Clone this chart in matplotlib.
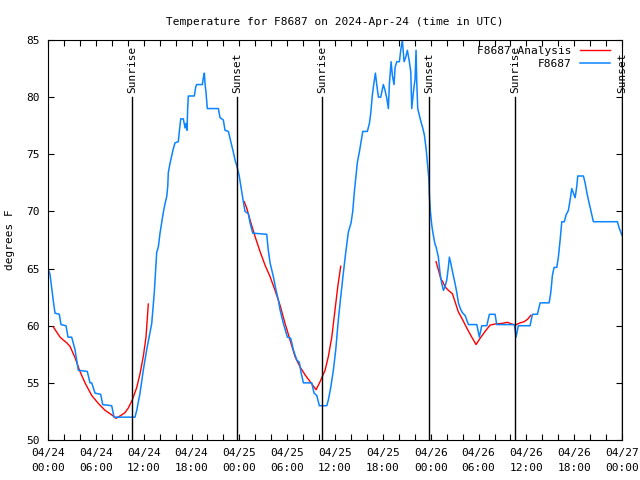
import numpy as np
import pandas as pd
import matplotlib
matplotlib.use("Agg")
import matplotlib.pyplot as plt
import matplotlib.dates as mdates

plt.rcParams['font.family'] = ['DejaVu Sans Mono']
plt.rcParams['font.size'] = 8

start = pd.Timestamp("2024-04-24 00:00")

# station obs (hours after start, deg F)
obs_hours = [0.00, 0.25, 0.66, 0.88, 1.42, 1.63, 2.26, 2.51, 2.97, 3.39, 3.80, 4.93,
             5.27, 5.48, 5.90, 6.61, 6.86, 7.99, 8.28, 10.91, 11.13, 11.54, 11.95, 12.38,
             13.01, 13.33, 13.51, 13.63, 13.84, 14.05, 14.26, 14.46, 14.68, 14.89, 15.02, 15.09,
             15.30, 15.52, 15.72, 15.93, 16.34, 16.47, 16.65, 16.97, 17.19, 17.31, 17.44, 17.52,
             17.60, 18.35, 18.53, 18.65, 19.36, 19.48, 19.61, 19.69, 19.82, 19.98, 21.36, 21.58,
             21.99, 22.20, 22.62, 22.83, 23.04, 23.24, 23.46, 23.71, 23.96, 24.21, 24.37, 24.50,
             24.71, 25.13, 25.34, 25.68, 27.43, 27.63, 27.85, 28.26, 28.60, 28.89, 29.10, 29.52,
             30.02, 30.44, 30.77, 31.20, 31.52, 31.74, 32.03, 33.08, 33.37, 33.71, 34.03, 34.96,
             35.16, 35.46, 35.79, 36.09, 36.41, 36.71, 37.04, 37.34, 37.67, 38.01, 38.22, 38.42,
             38.64, 38.80, 39.05, 39.26, 39.48, 40.05, 40.31, 40.48, 40.68, 40.89, 41.06, 41.23,
             41.44, 41.73, 42.06, 42.27, 42.49, 42.69, 42.81, 43.03, 43.19, 43.40, 43.53, 43.74,
             44.07, 44.24, 44.44, 44.66, 44.87, 45.07, 45.32, 45.50, 45.62, 45.82, 46.04, 46.16,
             46.25, 46.37, 46.58, 46.79, 47.00, 47.20, 47.42, 47.58, 47.76, 47.83, 47.96, 48.13,
             48.33, 48.55, 48.67, 48.96, 49.17, 49.38, 49.59, 49.80, 50.01, 50.21, 50.34, 50.51,
             50.77, 51.05, 51.27, 51.47, 51.77, 52.02, 52.31, 52.73, 53.78, 54.10, 54.40, 55.03,
             55.36, 56.07, 56.28, 58.49, 58.70, 58.99, 60.46, 60.75, 61.38, 61.72, 62.85, 63.06,
             63.26, 63.47, 63.81, 64.01, 64.23, 64.44, 64.76, 64.98, 65.27, 65.48, 65.69, 65.89,
             66.11, 66.32, 66.44, 67.15, 67.36, 67.57, 67.78, 68.08, 68.40, 71.41, 71.66, 72.00]
obs_temp = [65.0, 64.5, 62.2, 61.1, 61.0, 60.1, 60.0, 59.0, 59.0, 57.9, 56.1, 56.0,
            55.0, 55.0, 54.1, 54.0, 53.1, 53.0, 52.0, 52.0, 52.6, 54.1, 56.1, 57.9,
            60.2, 62.9, 65.1, 66.4, 66.9, 68.1, 69.0, 69.9, 70.7, 71.3, 72.2, 73.4,
            74.2, 74.9, 75.5, 76.0, 76.1, 77.0, 78.1, 78.1, 77.3, 77.7, 77.1, 79.1,
            80.1, 80.1, 80.9, 81.1, 81.1, 81.7, 82.1, 81.2, 80.4, 79.0, 79.0, 78.2,
            78.0, 77.1, 77.0, 76.4, 75.8, 75.2, 74.5, 73.9, 73.2, 72.1, 71.4, 70.85,
            70.0, 69.8, 69.0, 68.1, 68.0, 66.6, 65.5, 64.3, 63.1, 62.25, 61.4, 60.2,
            59.0, 58.9, 57.9, 57.0, 56.8, 55.9, 55.0, 55.0, 54.1, 53.9, 53.0, 53.0,
            53.5, 54.6, 56.1, 57.9, 60.5, 62.5, 64.6, 66.4, 68.2, 69.0, 70.0, 71.7,
            73.2, 74.3, 75.2, 76.1, 77.0, 77.0, 77.7, 78.6, 80.2, 81.3, 82.1, 81.1,
            80.0, 80.0, 81.1, 80.6, 79.9, 79.0, 81.1, 83.1, 81.9, 81.1, 82.6, 83.1,
            83.1, 84.1, 85.0, 83.1, 83.5, 84.1, 83.1, 82.2, 79.0, 80.4, 81.6, 84.1,
            81.3, 79.0, 78.4, 77.8, 77.3, 76.7, 75.5, 74.3, 72.9, 71.4, 70.0, 68.8,
            67.9, 67.1, 66.9, 66.0, 64.6, 63.7, 63.1, 63.4, 64.0, 65.1, 66.0, 65.5,
            64.6, 63.7, 62.9, 62.0, 61.4, 61.1, 60.9, 60.1, 60.1, 59.0, 60.0, 60.0,
            61.0, 61.0, 60.1, 60.1, 59.0, 60.0, 60.0, 61.0, 61.0, 62.0, 62.0, 62.9,
            64.4, 65.1, 65.1, 66.0, 67.5, 69.1, 69.1, 69.7, 70.1, 71.0, 72.0, 71.6,
            71.2, 72.2, 73.1, 73.1, 72.5, 71.7, 71.0, 70.1, 69.1, 69.1, 68.5, 67.9]

# analysis, three separate pieces
ana1_hours = [0.66, 1.51, 1.92, 2.35, 2.76, 3.39, 4.01, 4.64, 5.48, 6.31, 7.15, 7.99,
              8.53, 9.03, 9.66, 10.07, 10.57, 11.13, 11.54, 11.95, 12.29, 12.58]
ana1_temp = [59.9, 59.0, 58.75, 58.5, 58.2, 57.2, 56.0, 55.0, 53.9, 53.2, 52.6, 52.2,
             51.9, 52.1, 52.4, 52.8, 53.5, 54.6, 55.8, 57.3, 59.0, 61.9]
ana2_hours = [24.62, 24.92, 25.34, 25.97, 26.59, 27.22, 27.85, 28.47, 29.10, 29.73, 30.36,
              30.98, 31.61, 32.24, 32.99, 33.62, 34.12, 34.75, 35.16, 35.59, 36.00, 36.34, 36.71]
ana2_temp = [70.85, 70.3, 69.25, 67.8, 66.5, 65.3, 64.3, 63.1, 61.8, 60.2, 58.75,
             57.3, 56.4, 55.7, 55.0, 54.4, 55.1, 56.1, 57.3, 59.0, 61.4, 63.4, 65.2]
ana3_hours = [48.67, 48.96, 49.26, 49.51, 49.80, 50.21, 50.72, 51.05, 51.47, 52.02, 52.52,
              53.15, 53.69, 54.19, 54.82, 55.44, 56.07, 56.91, 57.62, 58.17, 58.58, 59.21,
              59.71, 60.12, 60.55]
ana3_temp = [65.6, 64.9, 64.1, 63.85, 63.4, 63.1, 62.8, 62.1, 61.2, 60.5, 59.8,
             59.0, 58.35, 58.9, 59.5, 60.05, 60.15, 60.2, 60.3, 60.15, 60.05, 60.25,
             60.35, 60.55, 60.9]

sunrise_hours = [10.54, 34.37, 58.58]
sunset_hours = [23.71, 47.79, 72.0]


def to_time(h):
    return start + pd.to_timedelta(np.array(h), unit="h")


fig = plt.figure(figsize=(6.4, 4.8), dpi=100)
ax = fig.add_axes([0.075, 0.0833, 0.897, 0.8334])

ax.plot(to_time(ana1_hours), ana1_temp, color="#ff0000", lw=1.0, label="F8687 Analysis")
ax.plot(to_time(ana2_hours), ana2_temp, color="#ff0000", lw=1.0)
ax.plot(to_time(ana3_hours), ana3_temp, color="#ff0000", lw=1.0)
ax.plot(to_time(obs_hours), obs_temp, color="#0a84ff", lw=1.1, label="F8687")

for hrs, name in [(sunrise_hours, "Sunrise"), (sunset_hours, "Sunset")]:
    for t in to_time(hrs):
        ax.plot([t, t], [50, 80], color="black", lw=1.0)
        ax.text(t, 80.4, name, rotation=90, ha="center", va="bottom", fontsize=8)

ax.set_xlim(start, start + pd.Timedelta(hours=72))
ax.set_ylim(50, 85)
ax.xaxis.set_major_locator(mdates.HourLocator(byhour=range(0, 24, 2)))
ax.xaxis.set_major_formatter(plt.FuncFormatter(
    lambda v, p: mdates.num2date(v).strftime("%m/%d\n%H:%M") if mdates.num2date(v).hour % 6 == 0 else ""))
ax.set_yticks(np.arange(50, 86, 5))
ax.tick_params(direction="in", top=True, right=True, length=4, width=0.8, pad=6)
for lab in ax.get_xticklabels():
    lab.set_linespacing(1.6)

ax.set_ylabel("degrees F", labelpad=8)
ax.set_title("Temperature for F8687 on 2024-Apr-24 (time in UTC)", pad=11, fontsize=8)

leg = ax.legend(loc="upper right", bbox_to_anchor=(0.988, 1.0), frameon=False,
                markerfirst=False, handlelength=2.7, borderaxespad=0.1,
                labelspacing=0.3, handletextpad=0.7)

fig.savefig("out.png", dpi=100)
